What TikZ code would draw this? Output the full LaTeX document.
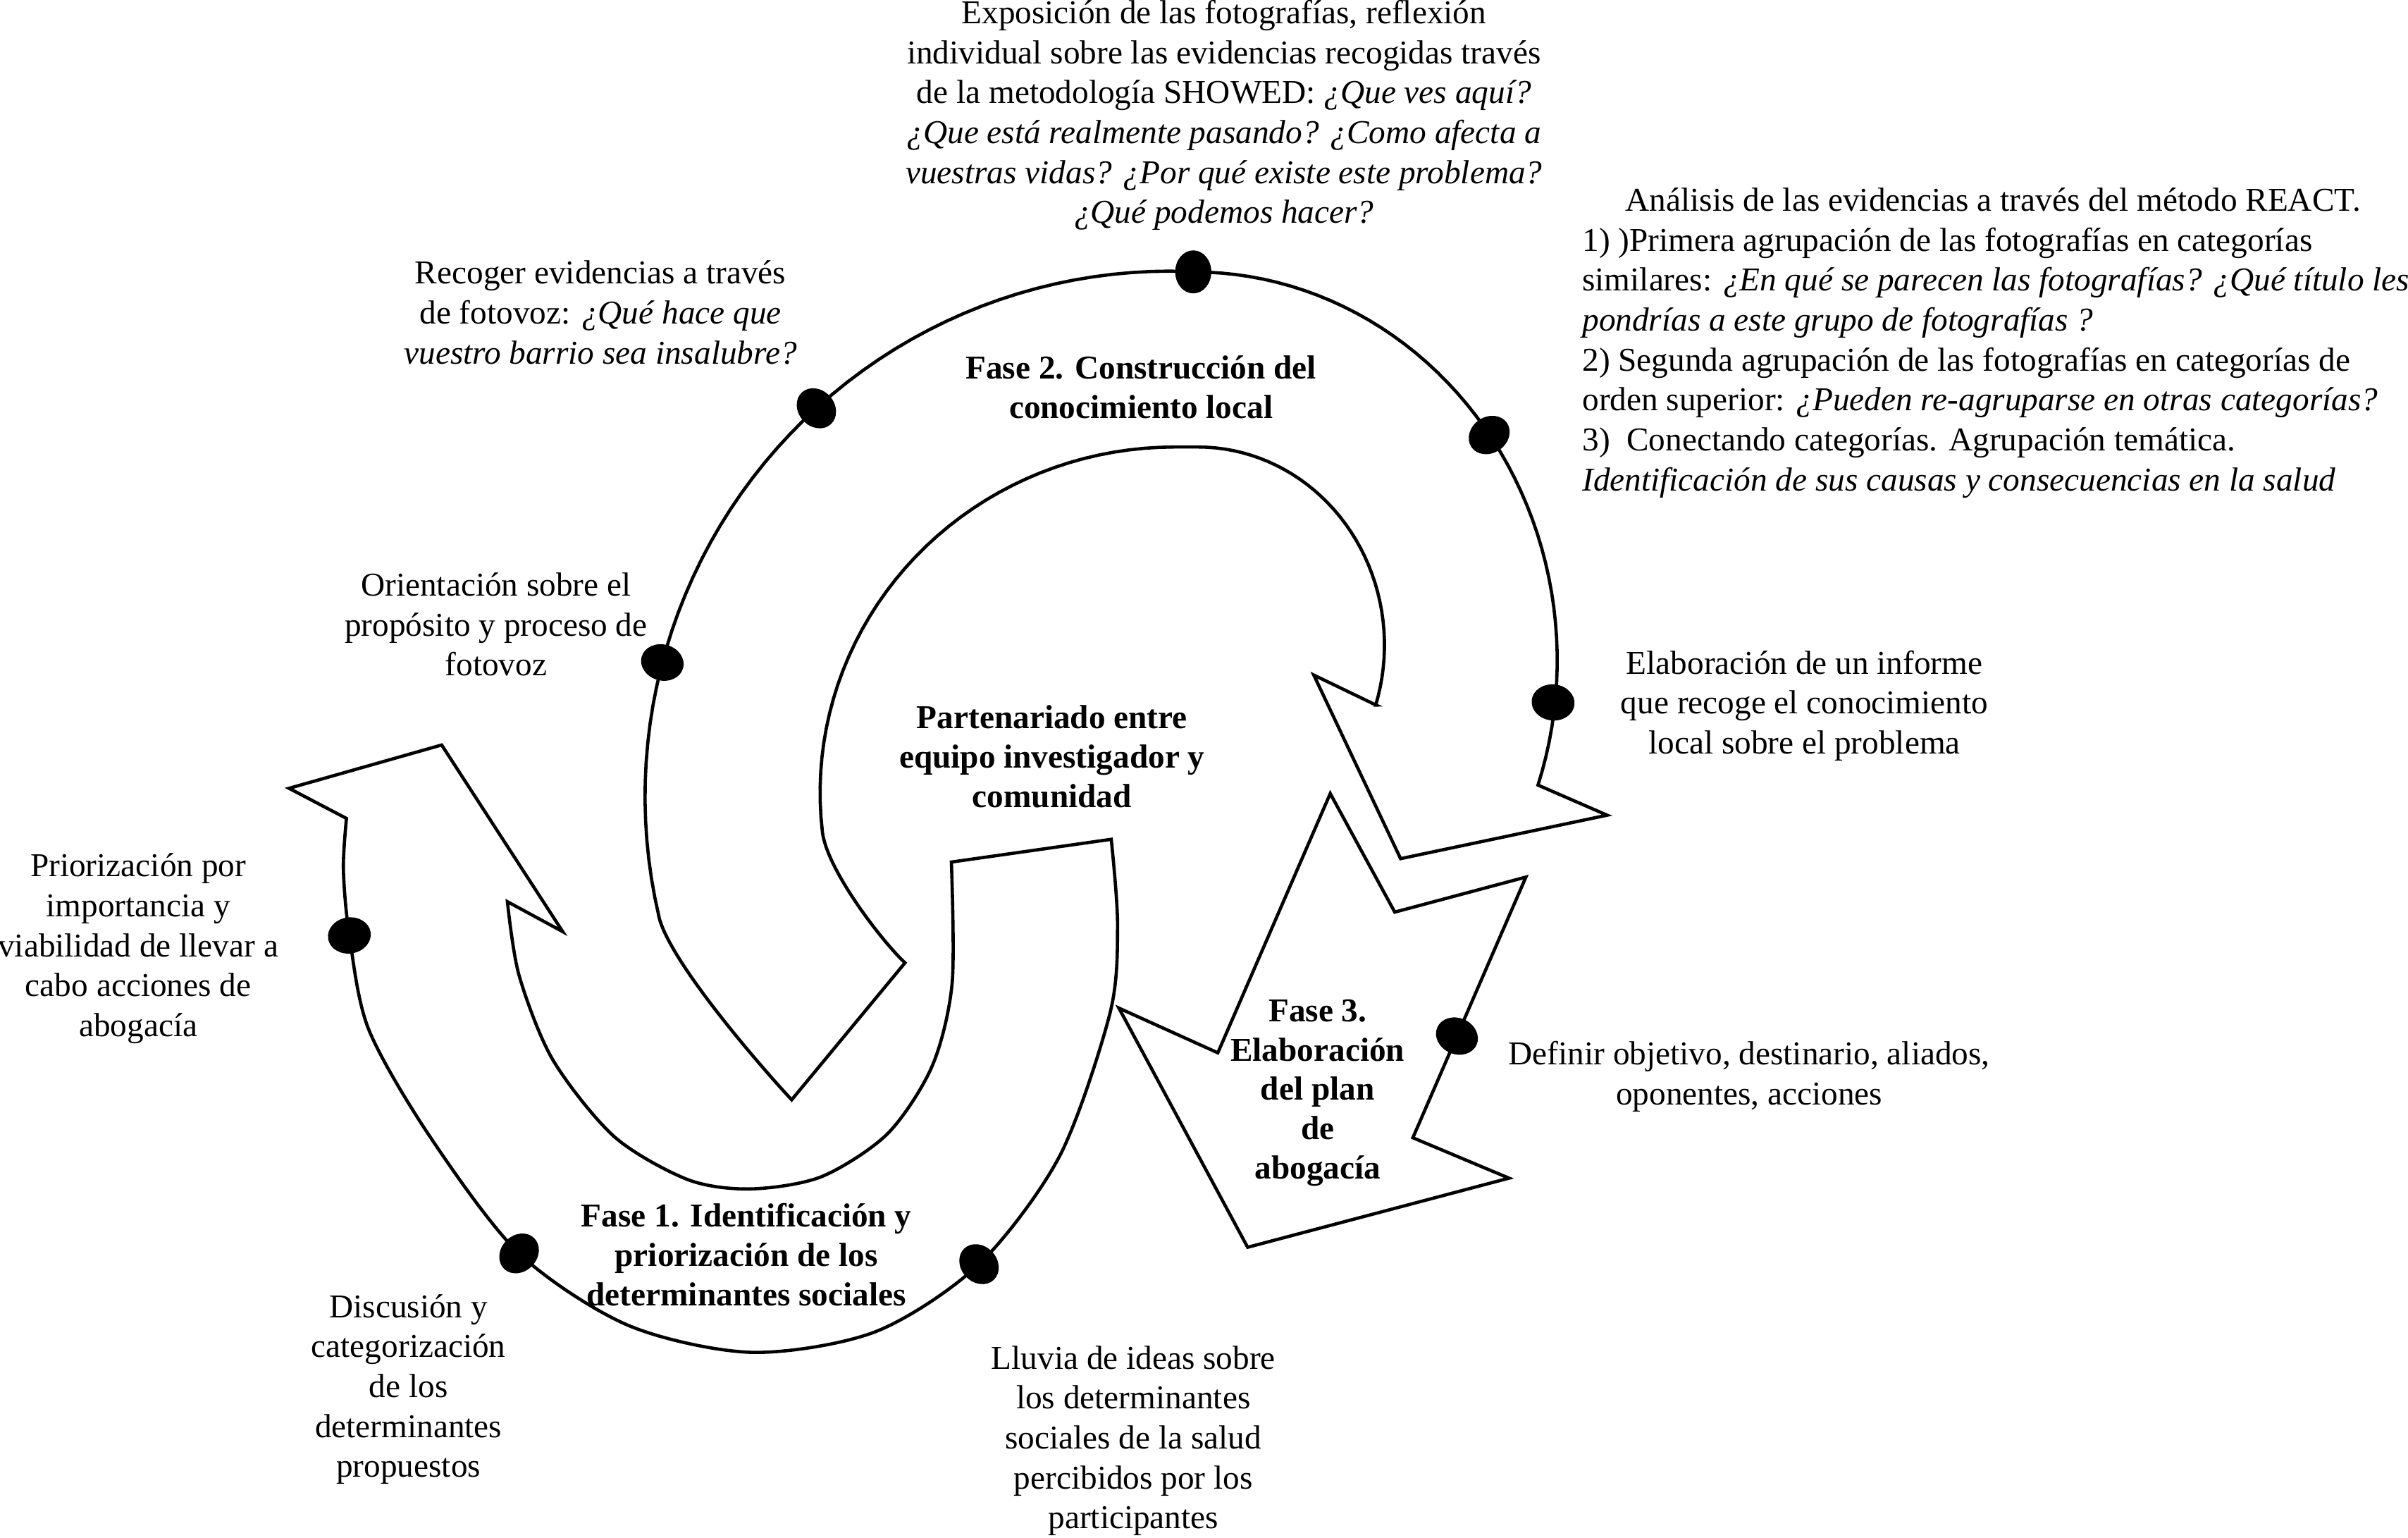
\documentclass[tikz,border=0pt]{standalone}
\usepackage{fontspec}
\setmainfont{Liberation Serif}
\usetikzlibrary{shapes.geometric}

\tikzset{
  texto/.style={align=center, inner sep=0pt, font=\fontsize{12.35}{14.8}\selectfont},
  fase/.style={align=center, inner sep=0pt, font=\fontsize{12.35}{14.6}\selectfont\bfseries},
  flecha/.style={draw=black, line width=1.2pt, line join=miter, fill=white},
  punto/.style={ellipse, fill=black, inner sep=0pt, minimum width=0.56cm, minimum height=0.47cm},
}

\begin{document}
\begin{tikzpicture}[x=0.02cm, y=-0.02cm]
  \useasboundingbox (0,0) rectangle (1568,1001);

  % Fase 1
  \draw[flecha] (225.6,532.8) -- (188.2,513.2) -- (287.6,485) -- (366.4,606.5) -- (330.4,587)
    -- plot[smooth] coordinates {(330.4,587) (338,635) (360,690) (400,740) (448,768) (489,774) (535,766) (578,738) (607,694) (620,640) (619.5,561.2)}
    -- (723.6,546.4)
    -- plot[smooth] coordinates {(723.6,546.4) (727.7,602) (722.8,659.5) (690,752.6) (637.5,823) (570,867) (489.4,880.4) (409,862.8) (338,816) (280,740) (240,670) (227.5,609) (223.6,566) (225.6,532.8)}
    -- cycle;

  % Fase 2
  \draw[flecha] (515.5,716) .. controls (495,694) and (435.8,625.8) .. (429,596.6)
    -- plot[domain=193.2:90, samples=50] ({762+342*cos(\x)}, {518.5-342*sin(\x)})
    -- plot[domain=90:-18.7, samples=50] ({777+237*cos(\x)}, {430-253*sin(\x)})
    -- (1046.5,530.7) -- (912,559) -- (855.5,439.5) -- (896,459)
    -- plot[domain=-17.6:90, samples=40] ({780+121.5*cos(\x)}, {420-129*sin(\x)})
    -- plot[domain=90:186.5, samples=40] ({765+231*cos(\x)}, {516-225*sin(\x)})
    .. controls (538.4,566.3) and (574.6,613.2) .. (589.3,626.8)
    -- cycle;

  % Fase 3
  \draw[flecha] (866.2,516.6) -- (908.2,593.8) -- (993.6,571) -- (920,740.7) -- (982.6,767)
    -- (812.4,812) -- (728.6,656.3) -- (793,685.4) -- cycle;

  % puntos
  \node[punto, rotate=9] (p1) at (227.5,609) {};
  \node[punto, rotate=46] (p2) at (338,816) {};
  \node[punto, rotate=-47] (p3) at (637.5,823) {};
  \node[punto, rotate=-15] (p4) at (431.3,431.3) {};
  \node[punto, rotate=-48] (p5) at (531.6,265.8) {};
  \node[punto, rotate=90] (p6) at (777,177) {};
  \node[punto, rotate=34] (p7) at (969.7,283.2) {};
  \node[punto, rotate=-6] (p8) at (1011.3,457.3) {};
  \node[punto, rotate=-24] (p9) at (948.7,674.5) {};

  % fases
  \node[fase] (fase1) at (486,817) {Fase 1. Identificación y\\ priorización de los\\ determinantes sociales};
  \node[fase] (fase2) at (743,252) {Fase 2. Construcción del\\ conocimiento local};
  \node[fase] (fase3) at (858,711.5) {Fase 3.\\ Elaboración\\ del plan\\ de\\ abogacía};
  \node[fase] (centro) at (685,492.5) {Partenariado entre\\ equipo investigador y\\ comunidad};

  % textos
  \node[texto] (exposicion) at (797,75) {Exposición de las fotografías, reflexión\\ individual sobre las evidencias recogidas través\\ de la metodología SHOWED: \textit{¿Que ves aquí?}\\ \textit{¿Que está realmente pasando? ¿Como afecta a}\\ \textit{vuestras vidas? ¿Por qué existe este problema?}\\ \textit{¿Qué podemos hacer?}};
  \node[texto] (recoger) at (391,203.5) {Recoger evidencias a través\\ de fotovoz: \textit{¿Qué hace que}\\ \textit{vuestro barrio sea insalubre?}};
  \node[texto] (orientacion) at (323,406.5) {Orientación sobre el\\ propósito y proceso de\\ fotovoz};
  \node[texto] (priorizacion) at (90,617.5) {Priorización por\\ importancia y\\ viabilidad de llevar a\\ cabo acciones de\\ abogacía};
  \node[texto] (discusion) at (266,904.5) {Discusión y\\ categorización\\ de los\\ determinantes\\ propuestos};
  \node[texto] (lluvia) at (738,938) {Lluvia de ideas sobre\\ los determinantes\\ sociales de la salud\\ percibidos por los\\ participantes};
  \node[texto] (definir) at (1139,701) {Definir objetivo, destinario, aliados,\\ oponentes, acciones};
  \node[texto] (informe) at (1175,459.5) {Elaboración de un informe\\ que recoge el conocimiento\\ local sobre el problema};
  \node[texto, align=left, anchor=north west] (react) at (1030,122) {\hspace*{16pt}Análisis de las evidencias a través del método REACT.\\ 1) )Primera agrupación de las fotografías en categorías\\ similares: \textit{¿En qué se parecen las fotografías? ¿Qué título les}\\ \textit{pondrías a este grupo de fotografías ?}\\ 2) Segunda agrupación de las fotografías en categorías de\\ orden superior: \textit{¿Pueden re-agruparse en otras categorías?}\\ 3)\ \ Conectando categorías. Agrupación temática.\\ \textit{Identificación de sus causas y consecuencias en la salud}};
\end{tikzpicture}
\end{document}
